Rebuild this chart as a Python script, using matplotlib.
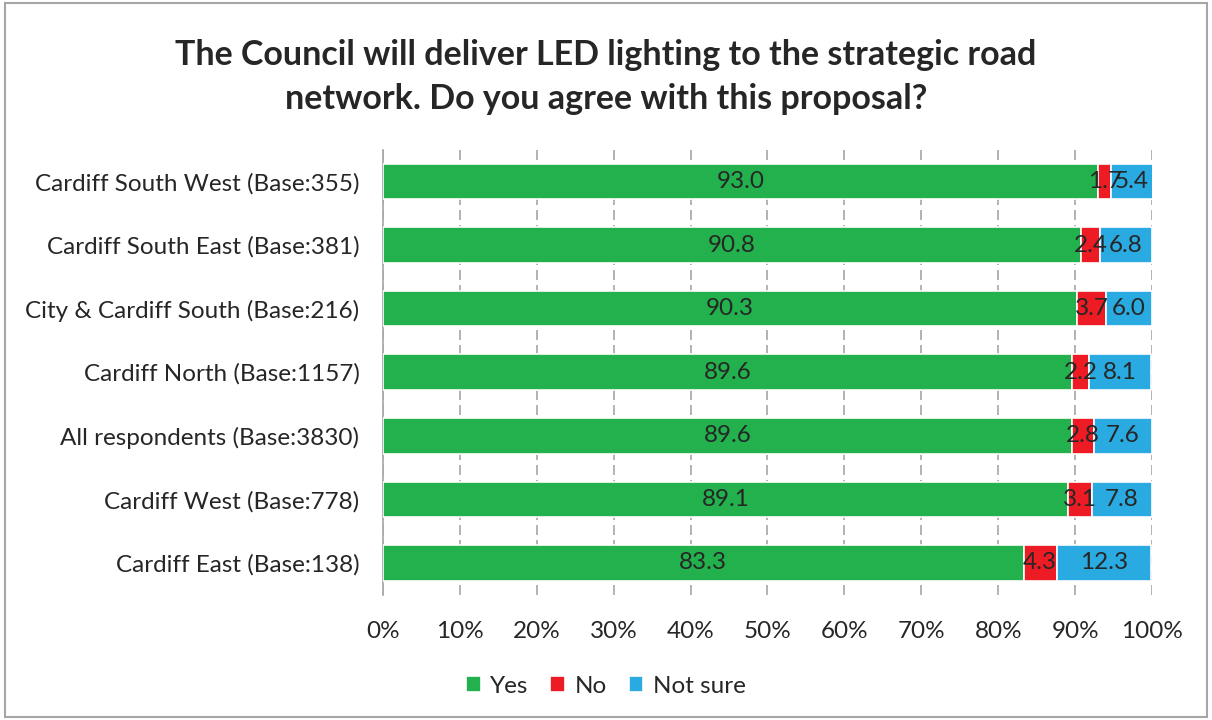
#!/usr/bin/env python3
"""Stacked bar chart: LED lighting proposal agreement by area."""

import matplotlib.pyplot as plt
from matplotlib.patches import Rectangle

areas = [
    "Cardiff South West (Base:355)",
    "Cardiff South East (Base:381)",
    "City & Cardiff South (Base:216)",
    "Cardiff North (Base:1157)",
    "All respondents (Base:3830)",
    "Cardiff West (Base:778)",
    "Cardiff East (Base:138)",
]
yes = [93.0, 90.8, 90.3, 89.6, 89.6, 89.1, 83.3]
no = [1.7, 2.4, 3.7, 2.2, 2.8, 3.1, 4.3]
not_sure = [5.4, 6.8, 6.0, 8.1, 7.6, 7.8, 12.3]

series = [("Yes", yes, "#22b14c"), ("No", no, "#ed1c24"), ("Not sure", not_sure, "#29abe2")]

plt.rcParams["font.family"] = ["Lato", "DejaVu Sans"]
text_color = "#262626"
fs = 17.5

fig = plt.figure(figsize=(12.12, 7.2), dpi=100)
ax = fig.add_axes([0.316, 0.174, 0.6345, 0.618])

ypos = list(range(len(areas)))
left = [0.0] * len(areas)
for name, vals, color in series:
    bars = ax.barh(ypos, vals, left=left, height=0.56, color=color,
                   edgecolor="white", linewidth=1.2, label=name, zorder=3)
    ax.bar_label(bars, labels=[f"{v:.1f}" for v in vals], label_type="center",
                 fontsize=fs, color=text_color, zorder=4)
    left = [l + v for l, v in zip(left, vals)]

ax.set_xlim(0, 100)
ax.set_ylim(len(areas) - 0.5, -0.5)
ax.set_yticks(ypos)
ax.set_yticklabels(areas, fontsize=fs, color=text_color)
ax.set_xticks(range(0, 101, 10))
ax.set_xticklabels([f"{t}%" for t in range(0, 101, 10)], fontsize=fs, color=text_color)
ax.tick_params(axis="y", length=0, pad=17)
ax.tick_params(axis="x", length=0, pad=19)

for spine in ("top", "right", "bottom"):
    ax.spines[spine].set_visible(False)
ax.spines["left"].set_color("#a6a6a6")
ax.spines["left"].set_linewidth(1.2)
ax.grid(axis="x", color="#a6a6a6", linestyle=(0, (6, 3)), linewidth=1.2, zorder=0)

fig.suptitle("The Council will deliver LED lighting to the strategic road\nnetwork. Do you agree with this proposal?",
             fontsize=24.5, fontweight="bold", color=text_color, y=0.946, linespacing=1.45)

fig.legend(loc="lower center", bbox_to_anchor=(0.5, 0.002), ncol=3, frameon=False,
           fontsize=fs, handlelength=0.6, handleheight=0.6, handletextpad=0.4,
           columnspacing=0.9, labelcolor=text_color)

fig.patches.append(Rectangle((0.004, 0.004), 0.992, 0.992, transform=fig.transFigure,
                             fill=False, edgecolor="#a6a6a6", linewidth=1.5))

fig.savefig("out.png", dpi=100)
